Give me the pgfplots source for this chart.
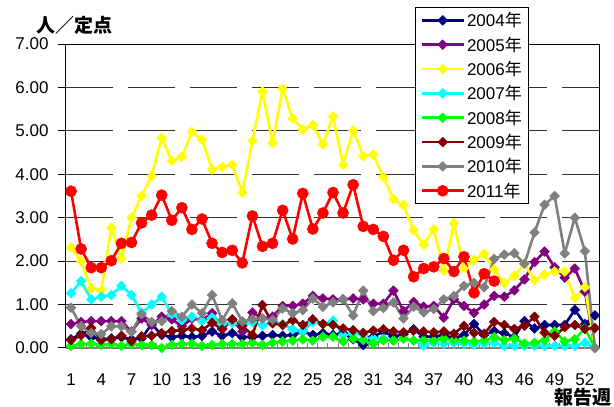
\documentclass[border=0pt]{standalone}
\usepackage{fontspec}
\setmainfont{Liberation Sans}
\newfontfamily\jp{Noto Sans CJK JP}
\usepackage{pgfplots}
\pgfplotsset{compat=1.18}
\definecolor{c04}{RGB}{0,0,128}
\definecolor{c05}{RGB}{128,0,128}
\definecolor{c06}{RGB}{255,255,0}
\definecolor{c07}{RGB}{0,255,255}
\definecolor{c08}{RGB}{0,255,0}
\definecolor{c09}{RGB}{128,0,0}
\definecolor{c10}{RGB}{128,128,128}
\definecolor{c11}{RGB}{255,0,0}
\begin{document}
\begin{tikzpicture}
\useasboundingbox (-66pt,-59pt) rectangle (548pt,348pt);
\begin{axis}[
  at={(0pt,0pt)}, anchor=south west,
  scale only axis, width=534pt, height=304pt,
  xmin=0.5, xmax=53.5, ymin=0, ymax=7,
  axis line style={black, line width=1pt},
  tick align=outside,
  xtick={1,4,...,52},
  major x tick style={draw=none},
  minor xtick={1.5,2.5,...,52.5},
  minor x tick style={draw=gray, line width=1pt, yshift=5pt},
  minor tick length=5pt,
  xtick pos=lower, ytick pos=left,
  ytick={0,1,...,7},
  major tick length=8pt,
  y tick style={black, line width=1pt},
  extra y ticks={1,2,3,4,5,6},
  extra y tick labels={},
  extra y tick style={grid=major, major tick length=0pt},
  major grid style={black!80, line width=0.9pt, dash pattern=on 47pt off 15pt},
  /pgf/number format/assume math mode=true,
  yticklabel style={/pgf/number format/fixed, /pgf/number format/fixed zerofill, /pgf/number format/precision=2},
  yticklabel style={font=\fontsize{17}{20}\selectfont, xshift=-6pt},
  xticklabel style={font=\fontsize{17}{20}\selectfont, inner sep=0pt, yshift=-17.5pt},
  legend style={at={(0.6536,1.1216)}, anchor=north west, draw=black, line width=0.8pt, fill=white,
    inner xsep=5pt, inner ysep=3pt, row sep=4.5pt, font=\fontsize{17}{20}\selectfont,
    nodes={inner sep=2pt}, cells={anchor=west}},
  legend image code/.code={\draw[mark repeat=2,mark phase=2] plot coordinates {(0pt,0pt) (21pt,0pt) (42pt,0pt)};},
  every axis plot/.append style={line width=2.6pt, line join=round},
  dia/.style={mark=square*, mark size=3.5pt, mark options={rotate=45, line width=0.4pt, solid}},
  clip=false,
]
\draw[gray, line width=1.3pt] (rel axis cs:0,0) -- (rel axis cs:1,0);
\addplot[c04, dia] coordinates {(1,0.20)(2,0.33)(3,0.25)(4,0.20)(5,0.22)(6,0.25)(7,0.20)(8,0.22)(9,0.55)(10,0.30)(11,0.25)(12,0.28)(13,0.25)(14,0.28)(15,0.38)(16,0.28)(17,0.34)(18,0.25)(19,0.25)(20,0.28)(21,0.30)(22,0.28)(23,0.30)(24,0.38)(25,0.30)(26,0.34)(27,0.30)(28,0.34)(29,0.20)(30,0.07)(31,0.26)(32,0.38)(33,0.26)(34,0.32)(35,0.43)(36,0.26)(37,0.26)(38,0.30)(39,0.22)(40,0.30)(41,0.55)(42,0.30)(43,0.39)(44,0.34)(45,0.25)(46,0.62)(47,0.45)(48,0.53)(49,0.53)(50,0.53)(51,0.88)(52,0.55)(53,0.75)};
\addlegendentry{2004{\jp 年}}
\addplot[c05, dia] coordinates {(1,0.55)(2,0.60)(3,0.62)(4,0.62)(5,0.62)(6,0.62)(7,0.38)(8,0.68)(9,0.53)(10,0.72)(11,0.66)(12,0.50)(13,0.68)(14,0.64)(15,0.80)(16,0.45)(17,0.65)(18,0.38)(19,0.82)(20,0.68)(21,0.72)(22,0.97)(23,0.97)(24,1.02)(25,1.20)(26,1.14)(27,1.12)(28,1.12)(29,1.14)(30,1.12)(31,1.02)(32,1.02)(33,1.32)(34,0.85)(35,1.06)(36,0.95)(37,0.97)(38,0.70)(39,1.12)(40,0.97)(41,0.81)(42,1.00)(43,1.20)(44,1.18)(45,1.33)(46,1.58)(47,1.98)(48,2.22)(49,1.86)(50,1.62)(51,1.83)(52,1.30)(53,0)};
\addlegendentry{2005{\jp 年}}
\addplot[c06, dia] coordinates {(1,2.31)(2,2.00)(3,1.37)(4,1.33)(5,2.77)(6,2.06)(7,3.00)(8,3.50)(9,3.96)(10,4.84)(11,4.31)(12,4.40)(13,4.98)(14,4.80)(15,4.11)(16,4.17)(17,4.22)(18,3.58)(19,4.77)(20,5.91)(21,4.72)(22,5.97)(23,5.28)(24,5.03)(25,5.13)(26,4.69)(27,5.33)(28,4.22)(29,5.01)(30,4.42)(31,4.45)(32,3.94)(33,3.43)(34,3.29)(35,2.71)(36,2.38)(37,2.73)(38,1.78)(39,2.87)(40,1.83)(41,2.03)(42,2.17)(43,1.81)(44,1.50)(45,1.66)(46,1.94)(47,1.56)(48,1.69)(49,1.76)(50,1.76)(51,1.15)(52,1.40)(53,0)};
\addlegendentry{2006{\jp 年}}
\addplot[c07, dia] coordinates {(1,1.26)(2,1.54)(3,1.12)(4,1.18)(5,1.22)(6,1.43)(7,1.22)(8,0.81)(9,1.00)(10,1.18)(11,0.78)(12,0.64)(13,0.72)(14,0.62)(15,0.70)(16,0.55)(17,0.58)(18,0.52)(19,0.60)(20,0.52)(21,0.62)(22,0.55)(23,0.43)(24,0.38)(25,0.60)(26,0.55)(27,0.63)(28,0.30)(29,0.34)(30,0.30)(31,0.22)(32,0.22)(33,0.17)(34,0.22)(35,0.17)(36,0.05)(37,0.12)(38,0.10)(39,0.12)(40,0.10)(41,0.08)(42,0.10)(43,0.12)(44,0.05)(45,0.05)(46,0.05)(47,0.05)(48,0.05)(49,0.05)(50,0.05)(51,0.05)(52,0.12)(53,0)};
\addlegendentry{2007{\jp 年}}
\addplot[c08, dia] coordinates {(1,0.05)(2,0.09)(3,0.10)(4,0.07)(5,0.09)(6,0.05)(7,0.09)(8,0.07)(9,0.07)(10,0.00)(11,0.07)(12,0.09)(13,0.10)(14,0.05)(15,0.07)(16,0.09)(17,0.09)(18,0.09)(19,0.12)(20,0.07)(21,0.12)(22,0.15)(23,0.17)(24,0.20)(25,0.17)(26,0.26)(27,0.26)(28,0.15)(29,0.22)(30,0.18)(31,0.10)(32,0.18)(33,0.17)(34,0.22)(35,0.17)(36,0.18)(37,0.17)(38,0.22)(39,0.18)(40,0.17)(41,0.15)(42,0.17)(43,0.25)(44,0.18)(45,0.22)(46,0.10)(47,0.12)(48,0.18)(49,0.38)(50,0.15)(51,0.20)(52,0.45)(53,0)};
\addlegendentry{2008{\jp 年}}
\addplot[c09, dia] coordinates {(1,0.18)(2,0.29)(3,0.46)(4,0.18)(5,0.20)(6,0.28)(7,0.16)(8,0.27)(9,0.28)(10,0.34)(11,0.39)(12,0.41)(13,0.45)(14,0.41)(15,0.58)(16,0.43)(17,0.66)(18,0.51)(19,0.30)(20,0.99)(21,0.57)(22,0.53)(23,0.64)(24,0.53)(25,0.66)(26,0.55)(27,0.53)(28,0.45)(29,0.41)(30,0.35)(31,0.40)(32,0.43)(33,0.38)(34,0.36)(35,0.40)(36,0.38)(37,0.36)(38,0.38)(39,0.33)(40,0.51)(41,0.35)(42,0.33)(43,0.60)(44,0.53)(45,0.44)(46,0.51)(47,0.72)(48,0.35)(49,0.28)(50,0.48)(51,0.53)(52,0.44)(53,0.46)};
\addlegendentry{2009{\jp 年}}
\addplot[c10, dia] coordinates {(1,0.93)(2,0.50)(3,0.35)(4,0.32)(5,0.50)(6,0.50)(7,0.37)(8,0.78)(9,0.60)(10,0.62)(11,0.85)(12,0.72)(13,1.00)(14,0.80)(15,1.22)(16,0.64)(17,1.03)(18,0.61)(19,0.66)(20,0.68)(21,0.65)(22,0.91)(23,0.80)(24,0.87)(25,1.14)(26,0.95)(27,1.05)(28,1.12)(29,0.75)(30,1.32)(31,0.85)(32,0.92)(33,1.05)(34,0.68)(35,0.95)(36,0.82)(37,0.90)(38,1.12)(39,1.20)(40,1.43)(41,1.50)(42,1.40)(43,2.05)(44,2.15)(45,2.18)(46,1.94)(47,2.66)(48,3.30)(49,3.50)(50,2.18)(51,3.00)(52,2.23)(53,0)};
\addlegendentry{2010{\jp 年}}
\addplot[c11, mark=*, mark size=5.6pt, mark options={line width=0.4pt, solid}] coordinates {(1,3.61)(2,2.28)(3,1.85)(4,1.85)(5,2.01)(6,2.41)(7,2.43)(8,2.88)(9,3.06)(10,3.52)(11,2.94)(12,3.23)(13,2.73)(14,2.97)(15,2.41)(16,2.20)(17,2.25)(18,1.96)(19,3.04)(20,2.34)(21,2.41)(22,3.17)(23,2.51)(24,3.56)(25,2.74)(26,3.11)(27,3.58)(28,3.11)(29,3.76)(30,2.80)(31,2.73)(32,2.57)(33,2.02)(34,2.25)(35,1.64)(36,1.83)(37,1.87)(38,2.06)(39,1.76)(40,2.10)(41,1.27)(42,1.71)(43,1.54)};
\addlegendentry{2011{\jp 年}}
\end{axis}
\node[font=\jp\bfseries\fontsize{19}{22}\selectfont] at (9pt,323pt) {人／定点};
\node[font=\jp\bfseries\fontsize{19}{22}\selectfont, inner sep=0pt, anchor=south east] at (546pt,-59pt) {報告週};
\end{tikzpicture}
\end{document}
